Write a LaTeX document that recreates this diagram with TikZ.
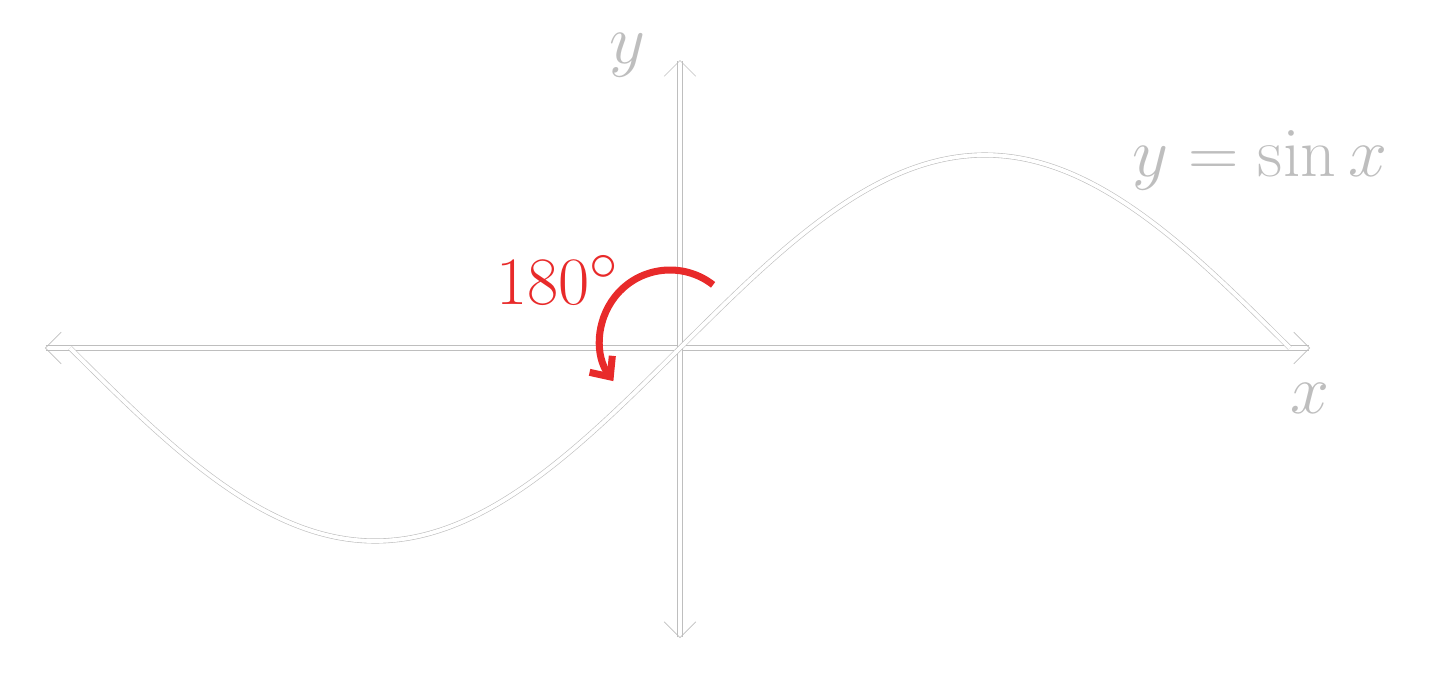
\documentclass[tikz,border=0pt]{standalone}
\usetikzlibrary{arrows.meta}
\definecolor{turnred}{RGB}{232,42,42}
\definecolor{rimgray}{RGB}{190,190,190}
\tikzset{
  ghostline/.style={draw=rimgray, line width=0.35pt, double=white, double distance=2.2pt},
  ghosttext/.style={text=rimgray, font=\Huge, scale=1.6}
}
\begin{document}
\begin{tikzpicture}[>={Straight Barb[length=9pt,width=18pt]}]
\useasboundingbox (-13.6,-6.48) rectangle (15.06,6.96);
\coordinate (xleft) at (-12.7,0);
\coordinate (xright) at (12.6,0);
\coordinate (ydown) at (0,-5.8);
\coordinate (yup) at (0,5.76);
\draw[ghostline, <->] (xleft) -- (xright);
\draw[ghostline, <->] (ydown) -- (yup);
\draw[ghostline] plot[domain=-3.1416:3.1416, samples=120, smooth] ({3.883*\x},{3.86*sin(\x r)});
\node[ghosttext] (ylabel) at (-1.06,5.86) {$y$};
\node[ghosttext] (xlabel) at (12.6,-1.0) {$x$};
\node[ghosttext] (curvelabel) at (11.6,3.76) {$y=\sin x$};
\node[text=turnred, font=\Huge, scale=1.55] (angle) at (-2.45,1.36) {$180^\circ$};
\draw[turnred, line width=4pt, -{Straight Barb[length=9pt,width=16pt]}] (-0.2,0.16) ++(52:1.4) arc[start angle=52, end angle=216, radius=1.4];
\end{tikzpicture}
\end{document}
